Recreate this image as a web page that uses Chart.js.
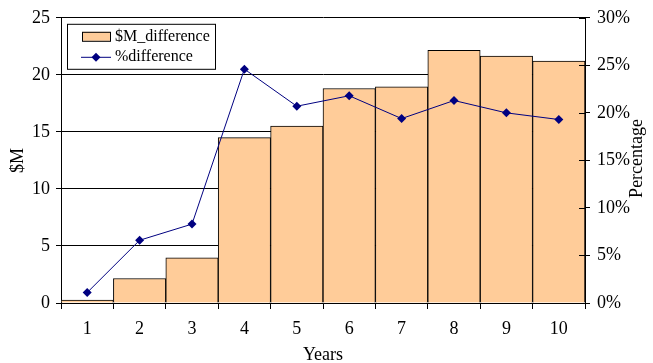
<!DOCTYPE html>
<html>
<head>
<meta charset="utf-8">
<script src="https://cdn.jsdelivr.net/npm/chart.js@4/dist/chart.umd.min.js"></script>
<style>
  html, body { margin: 0; padding: 0; background: #fff; }
  #wrap { width: 653px; height: 363px; }
</style>
</head>
<body>
<div id="wrap"><canvas id="c" width="653" height="363"></canvas></div>
<script>
// Year categories along the bottom axis
const years = ['1', '2', '3', '4', '5', '6', '7', '8', '9', '10'];
// Dollar difference per year ($M, left axis)
const dollarDiff = [0.25, 2.15, 3.95, 14.5, 15.5, 18.8, 18.95, 22.15, 21.65, 21.2];
// Percentage difference per year (right axis)
const pctDiff = [1.1, 6.6, 8.3, 24.6, 20.7, 21.8, 19.4, 21.3, 20.0, 19.3];
// Axis tick steps
const dollarTicks = [0, 5, 10, 15, 20, 25];
const pctTicks = [0, 5, 10, 15, 20, 25, 30];

const SERIF = "'Liberation Serif', 'Times New Roman', Times, serif";
Chart.defaults.font.family = SERIF;
Chart.defaults.font.size = 18;
Chart.defaults.color = '#000';
const axisFont = { family: SERIF, size: 18 };

// Boxed legend in the upper-left corner of the plot area
const boxedLegend = {
  id: 'boxedLegend',
  afterDraw(chart) {
    const { ctx, chartArea } = chart;
    const bar = chart.data.datasets[0];
    const line = chart.data.datasets[1];
    const x = chartArea.left + 6, y = chartArea.top + 6;
    ctx.save();
    ctx.fillStyle = '#fff';
    ctx.fillRect(x, y, 149, 45);
    ctx.strokeStyle = '#000';
    ctx.lineWidth = 1;
    ctx.strokeRect(x + 0.5, y + 0.5, 148, 45);
    // bar swatch
    ctx.fillStyle = bar.backgroundColor;
    ctx.fillRect(x + 15, y + 8, 28, 9);
    ctx.strokeRect(x + 15.5, y + 8.5, 28, 9);
    // line swatch with diamond marker
    const ly = y + 33;
    ctx.strokeStyle = line.borderColor;
    ctx.beginPath();
    ctx.moveTo(x + 14, ly + 0.5);
    ctx.lineTo(x + 44, ly + 0.5);
    ctx.stroke();
    ctx.fillStyle = line.pointBackgroundColor;
    const cx = x + 29, r = 4.5;
    ctx.beginPath();
    ctx.moveTo(cx, ly - r + 0.5);
    ctx.lineTo(cx + r, ly + 0.5);
    ctx.lineTo(cx, ly + r + 0.5);
    ctx.lineTo(cx - r, ly + 0.5);
    ctx.closePath();
    ctx.fill();
    // labels
    ctx.fillStyle = '#000';
    ctx.font = '16px ' + SERIF;
    ctx.textAlign = 'left';
    ctx.textBaseline = 'middle';
    ctx.fillText(bar.label, x + 48, y + 13);
    ctx.fillText(line.label, x + 48, ly);
    ctx.restore();
  }
};

// Right-axis extras: inner tick marks and a bottom-to-top title
const rightAxisExtras = {
  id: 'rightAxisExtras',
  afterDatasetsDraw(chart) {
    const { ctx, chartArea } = chart;
    const s = chart.scales.y1;
    ctx.save();
    ctx.strokeStyle = '#000';
    ctx.lineWidth = 1;
    s.ticks.forEach(t => {
      const py = Math.round(s.getPixelForValue(t.value)) + 0.5;
      ctx.beginPath();
      ctx.moveTo(chartArea.right - 6, py);
      ctx.lineTo(chartArea.right, py);
      ctx.stroke();
    });
    ctx.translate(chart.width - 16, (chartArea.top + chartArea.bottom) / 2 - 2);
    ctx.rotate(-Math.PI / 2);
    ctx.font = '18px ' + SERIF;
    ctx.fillStyle = '#000';
    ctx.textAlign = 'center';
    ctx.textBaseline = 'middle';
    ctx.fillText('Percentage', 0, 0);
    ctx.restore();
  }
};

new Chart(document.getElementById('c'), {
  data: {
    labels: years,
    datasets: [
      {
        type: 'bar',
        label: '$M_difference',
        data: dollarDiff,
        yAxisID: 'y',
        backgroundColor: '#FFCC99',
        borderColor: '#000',
        borderWidth: 1,
        barPercentage: 1,
        categoryPercentage: 1,
        order: 2
      },
      {
        type: 'line',
        label: '%difference',
        data: pctDiff,
        yAxisID: 'y1',
        borderColor: '#000080',
        backgroundColor: '#000080',
        pointBackgroundColor: '#000080',
        pointBorderColor: '#000080',
        borderWidth: 1,
        pointStyle: 'rectRot',
        pointRadius: 4.5,
        pointBorderWidth: 0,
        tension: 0,
        order: 1
      }
    ]
  },
  options: {
    responsive: false,
    animation: false,
    events: [],
    layout: { padding: { top: 17, left: 0, right: 0, bottom: 0 } },
    plugins: { legend: { display: false }, tooltip: { enabled: false } },
    scales: {
      x: {
        offset: true,
        grid: { display: true, drawOnChartArea: false, offset: true, color: '#000', tickLength: 6, lineWidth: 1 },
        border: { display: true, color: '#000', width: 1 },
        ticks: { padding: 9, maxRotation: 0, font: axisFont },
        title: { display: true, text: 'Years', padding: { top: 0, bottom: -3 }, font: axisFont },
        afterFit(scale) { scale.height = 60; }
      },
      y: {
        position: 'left',
        min: 0,
        max: 25,
        afterBuildTicks(scale) { scale.ticks = dollarTicks.map(v => ({ value: v })); },
        grid: { color: '#000', tickLength: 5, lineWidth: 1 },
        border: { display: true, color: '#000', width: 1 },
        ticks: { padding: 6, font: axisFont },
        title: { display: true, text: '$M', padding: { top: 7, bottom: 0 }, font: axisFont },
        afterFit(scale) { scale.width = 61; }
      },
      y1: {
        position: 'right',
        min: 0,
        max: 30,
        afterBuildTicks(scale) { scale.ticks = pctTicks.map(v => ({ value: v })); },
        grid: { drawOnChartArea: false, color: '#000', tickLength: 5, lineWidth: 1 },
        border: { display: true, color: '#000', width: 1 },
        ticks: { padding: 7, font: axisFont, callback: v => v + '%' },
        afterFit(scale) { scale.width = 68; }
      }
    }
  },
  plugins: [boxedLegend, rightAxisExtras]
});
</script>
</body>
</html>
